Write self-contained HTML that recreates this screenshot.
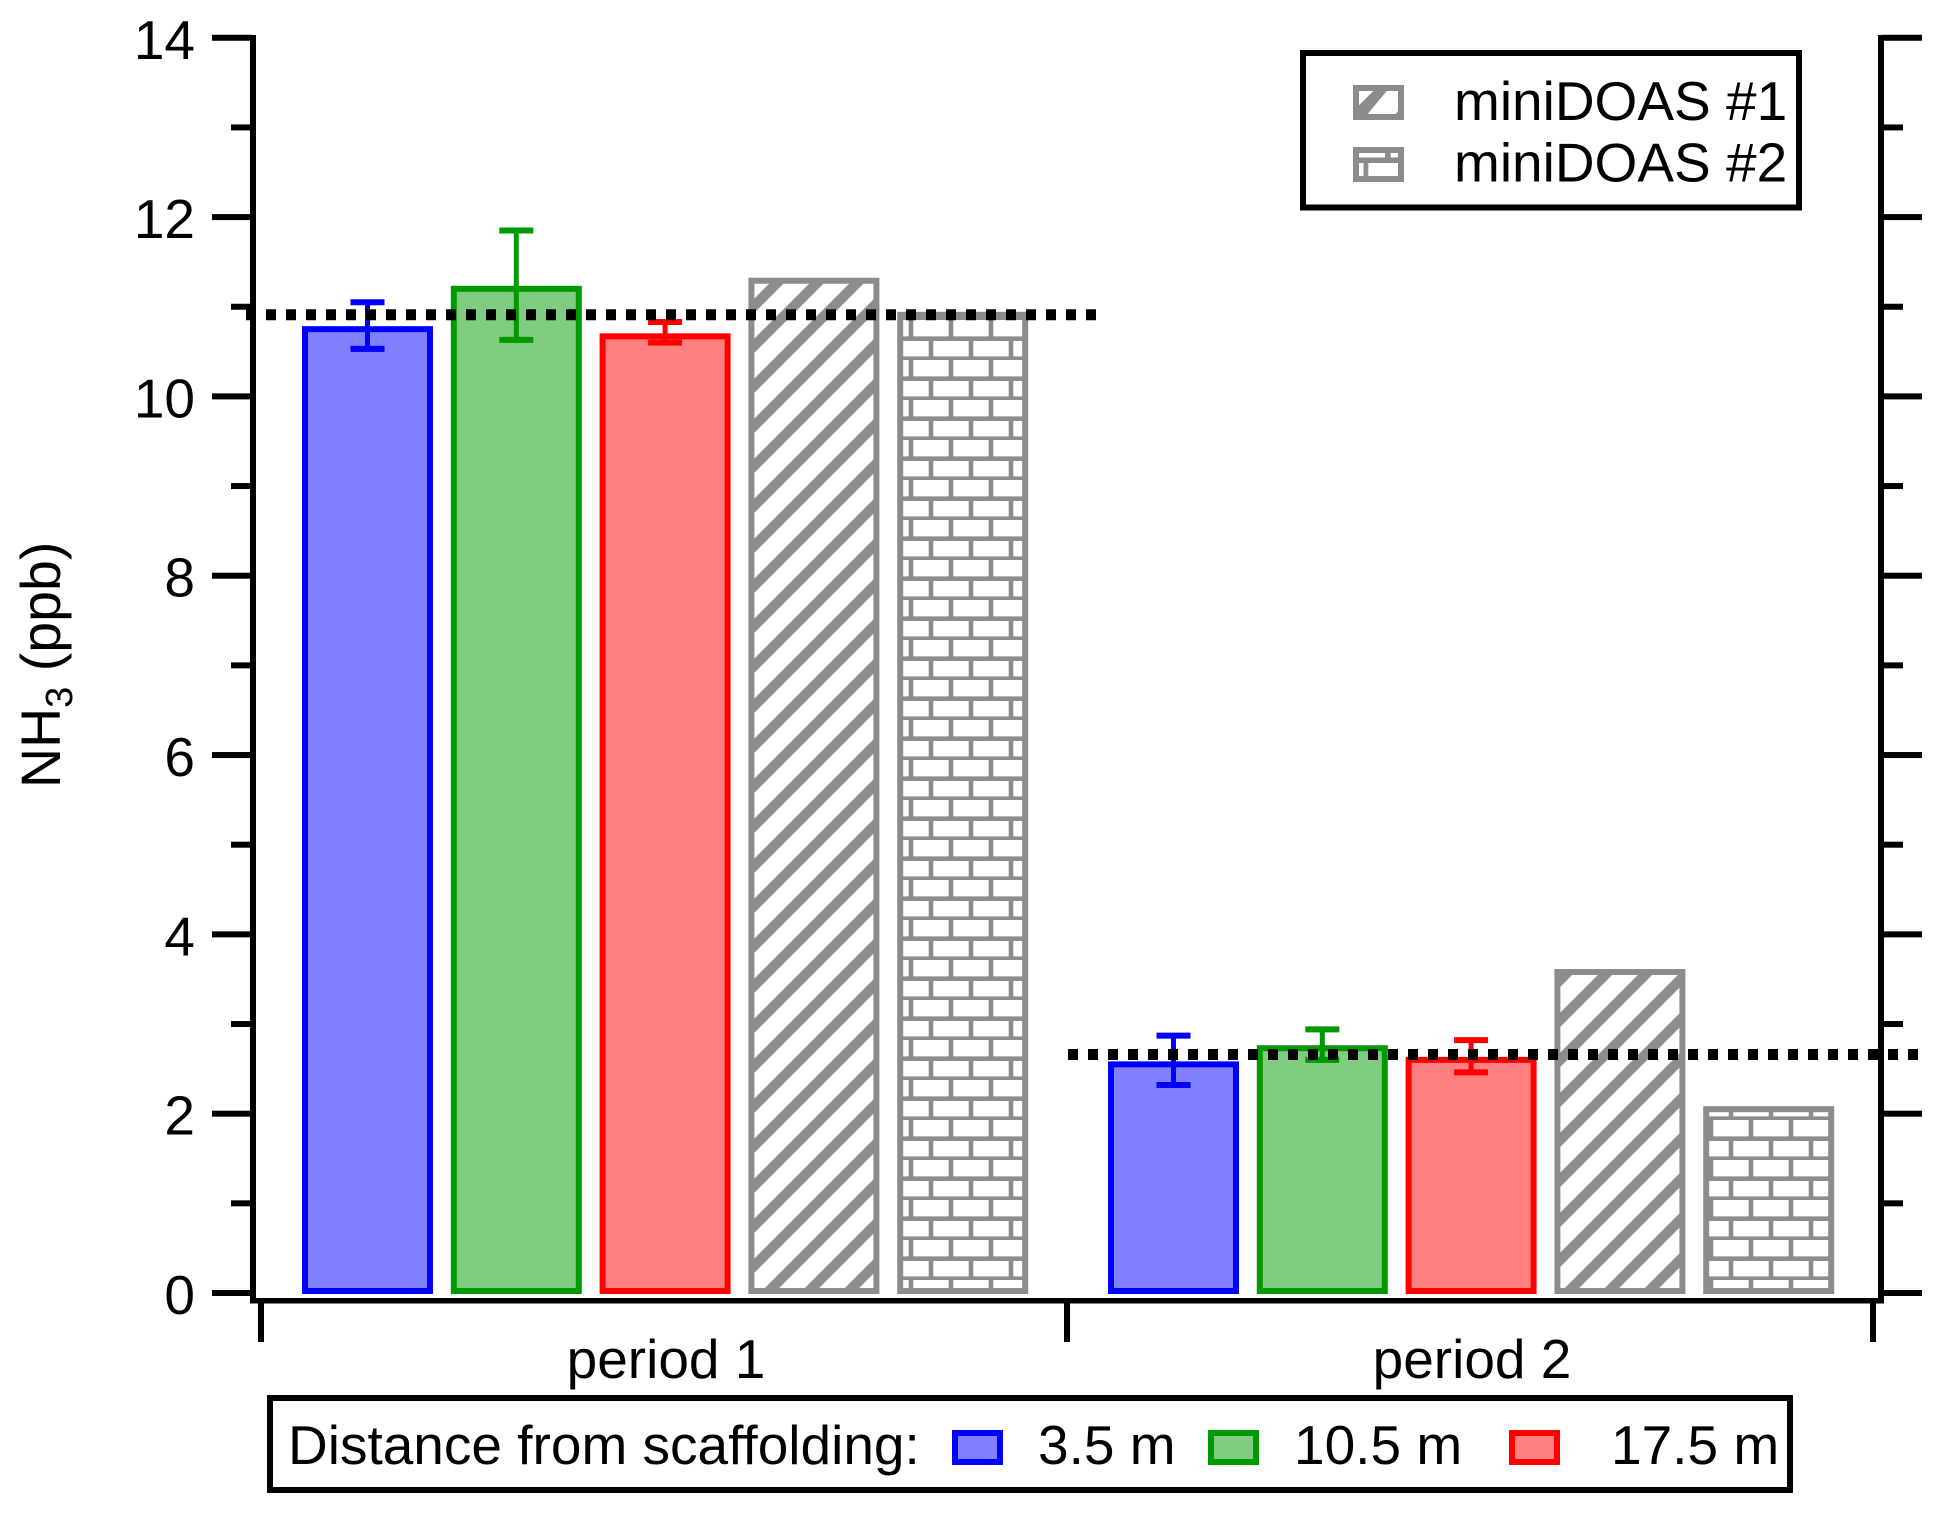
<!DOCTYPE html>
<html lang="en">
<head>
<meta charset="utf-8">
<title>NH3 bar chart</title>
<style>
html,body{margin:0;padding:0;background:#fff;}
svg{display:block;}
text{font-family:"Liberation Sans",Arial,sans-serif;fill:#000;font-size:55px;}
</style>
</head>
<body>
<svg id="chart" xmlns="http://www.w3.org/2000/svg" width="1945" height="1513" viewBox="0 0 1945 1513">
<defs>
<pattern id="hatch" patternUnits="userSpaceOnUse" width="40" height="40">
<path d="M-10 30 L30 -10 M-10 70 L70 -10 M10 50 L50 10" stroke="#8c8c8c" stroke-width="10" fill="none"/>
</pattern>
<pattern id="brick" patternUnits="userSpaceOnUse" width="40" height="40">
<path d="M0 18.7 H40 M0 38.7 H40 M11 18.7 V38.7 M31 38.7 V40 M31 0 V18.7" stroke="#8c8c8c" stroke-width="4.6" fill="none"/>
</pattern>
</defs>
<rect x="0" y="0" width="1945" height="1513" fill="#fff"/>
<g id="bars"></g>
<g id="errors"></g>
<g id="means"></g>
<g id="axes">
<rect x="250" y="35" width="6" height="1268" fill="#000"/>
<rect x="1878" y="35" width="6" height="1268" fill="#000"/>
<rect x="250" y="1298" width="1634" height="5.5" fill="#000"/>
</g>
<text x="60" y="788" transform="rotate(-90 60 788)" style="font-size:55.5px">NH<tspan dy="12" style="font-size:38px">3</tspan><tspan dy="-12"> (ppb)</tspan></text>
<g>
<rect x="1303" y="53" width="496" height="154.500" fill="#fff" stroke="#000" stroke-width="6"/>
<g>
<rect x="1353" y="85" width="51" height="35" fill="#8c8c8c"/>
<polygon points="1359,91 1373.3,91 1359,105.3" fill="#fff"/>
<polygon points="1386.700,91 1398,91 1398,111 1395.700,114 1367.700,114" fill="#fff"/>
<text x="1454" y="120">miniDOAS #1</text>
</g>
<g>
<rect x="1353" y="147" width="51" height="35" fill="#8c8c8c"/>
<rect x="1359" y="153" width="26" height="4.500" fill="#fff"/>
<rect x="1390.700" y="153" width="7.300" height="4.500" fill="#fff"/>
<rect x="1359" y="163" width="4.500" height="13" fill="#fff"/>
<rect x="1368.300" y="163" width="29.700" height="13" fill="#fff"/>
<text x="1454" y="181.700">miniDOAS #2</text>
</g>
</g>
<g>
<rect x="270" y="1398" width="1520" height="92" fill="#fff" stroke="#000" stroke-width="6"/>
<text x="288" y="1464">Distance from scaffolding:</text>
<rect x="955" y="1433" width="45" height="29" fill="#8080ff" stroke="#0000ff" stroke-width="6"/>
<text x="1038" y="1464">3.5 m</text>
<rect x="1211" y="1433" width="45" height="29" fill="#80cc80" stroke="#009900" stroke-width="6"/>
<text x="1294" y="1464">10.5 m</text>
<rect x="1512" y="1433" width="45" height="29" fill="#ff8080" stroke="#ff0000" stroke-width="6"/>
<text x="1611" y="1464">17.5 m</text>
</g>
</svg>
<script>
var periods = ["period 1", "period 2"];
var seriesNames = ["3.5-m", "10.5-m", "17.5-m", "minidoas-1", "minidoas-2"];
var barValues1 = [10.75, 11.20, 10.67, 11.29, 10.91];
var barValues2 = [2.55, 2.73, 2.60, 3.58, 2.05];
var errHigh1 = [11.05, 11.85, 10.83];
var errLow1 = [10.53, 10.63, 10.60];
var errHigh2 = [2.87, 2.94, 2.82];
var errLow2 = [2.32, 2.60, 2.46];
var meanValues = [10.91, 2.66];
var yTickValues = [0, 1, 2, 3, 4, 5, 6, 7, 8, 9, 10, 11, 12, 13, 14];
var yTickLabels = ["0", "", "2", "", "4", "", "6", "", "8", "", "10", "", "12", "", "14"];

var strokeColors = ["#0000ff", "#009900", "#ff0000", "#8c8c8c", "#8c8c8c"];
var fillColors = ["#8080ff", "#80cc80", "#ff8080", "url(#hatch)", "url(#brick)"];
var NS = "http://www.w3.org/2000/svg";

function yScale(v) { return 1293 - v * 89.66; }
function periodLeft(p) { return 261 + p * 806; }
function barLeft(p, i) { return periodLeft(p) + 41 + i * 148.8; }
function make(tag, attrs, parent) {
  var el = document.createElementNS(NS, tag);
  for (var k in attrs) { el.setAttribute(k, attrs[k]); }
  parent.appendChild(el);
  return el;
}

var barsG = document.getElementById("bars");
var errG = document.getElementById("errors");
var meanG = document.getElementById("means");
var axesG = document.getElementById("axes");
var root = document.getElementById("chart");

var allValues = [barValues1, barValues2];
var allHigh = [errHigh1, errHigh2];
var allLow = [errLow1, errLow2];

periods.forEach(function (name, p) {
  allValues[p].forEach(function (v, i) {
    var x = barLeft(p, i) + 3;
    var top = yScale(v);
    var h = yScale(0) - 2 - top;
    if (i >= 3) {
      var under = make("rect", { x: x, y: top, width: 125, height: h, fill: "#fff" }, barsG);
      
      
    }
    var bar = make("rect", { x: x, y: top, width: 125, height: h, fill: fillColors[i], stroke: strokeColors[i], "stroke-width": 6 }, barsG);
    
    
  });
  allHigh[p].forEach(function (hi, i) {
    var lo = allLow[p][i];
    var cx = barLeft(p, i) + 65.5;
    var g = make("g", {}, errG);
    
    
    var col = strokeColors[i];
    make("line", { x1: cx, x2: cx, y1: yScale(hi), y2: yScale(lo), stroke: col, "stroke-width": 5 }, g);
    make("line", { x1: cx - 17, x2: cx + 17, y1: yScale(hi), y2: yScale(hi), stroke: col, "stroke-width": 6 }, g);
    make("line", { x1: cx - 17, x2: cx + 17, y1: yScale(lo), y2: yScale(lo), stroke: col, "stroke-width": 6 }, g);
  });
  var mx = periodLeft(p) - 15 + p * 16;
  var mean = make("line", { x1: mx, x2: mx + 850 + p, y1: yScale(meanValues[p]), y2: yScale(meanValues[p]), stroke: "#000", "stroke-width": 11, "stroke-dasharray": "10 10" }, meanG);
  
  

  var label = make("text", { x: periodLeft(p) + 405, y: 1378, "text-anchor": "middle" }, root);
  label.textContent = name;
  
  
});

[0, 1, 2].forEach(function (k) {
  var t = make("rect", { x: periodLeft(k) - 3, y: 1303, width: 6, height: 39, fill: "#000" }, axesG);
  
  
});

yTickValues.forEach(function (v, i) {
  var y = yScale(v);
  var major = yTickLabels[i] !== "";
  var left = make("rect", { x: major ? 212 : 231, y: y - 3, width: major ? 40 : 21, height: 6, fill: "#000" }, axesG);
  
  
  var right = make("rect", { x: 1882, y: y - 3, width: major ? 40 : 21, height: 6, fill: "#000" }, axesG);
  
  
  if (major) {
    var txt = make("text", { x: 195, y: y + 21, "text-anchor": "end" }, root);
    txt.textContent = yTickLabels[i];
    
    
  }
});
</script>
</body>
</html>
